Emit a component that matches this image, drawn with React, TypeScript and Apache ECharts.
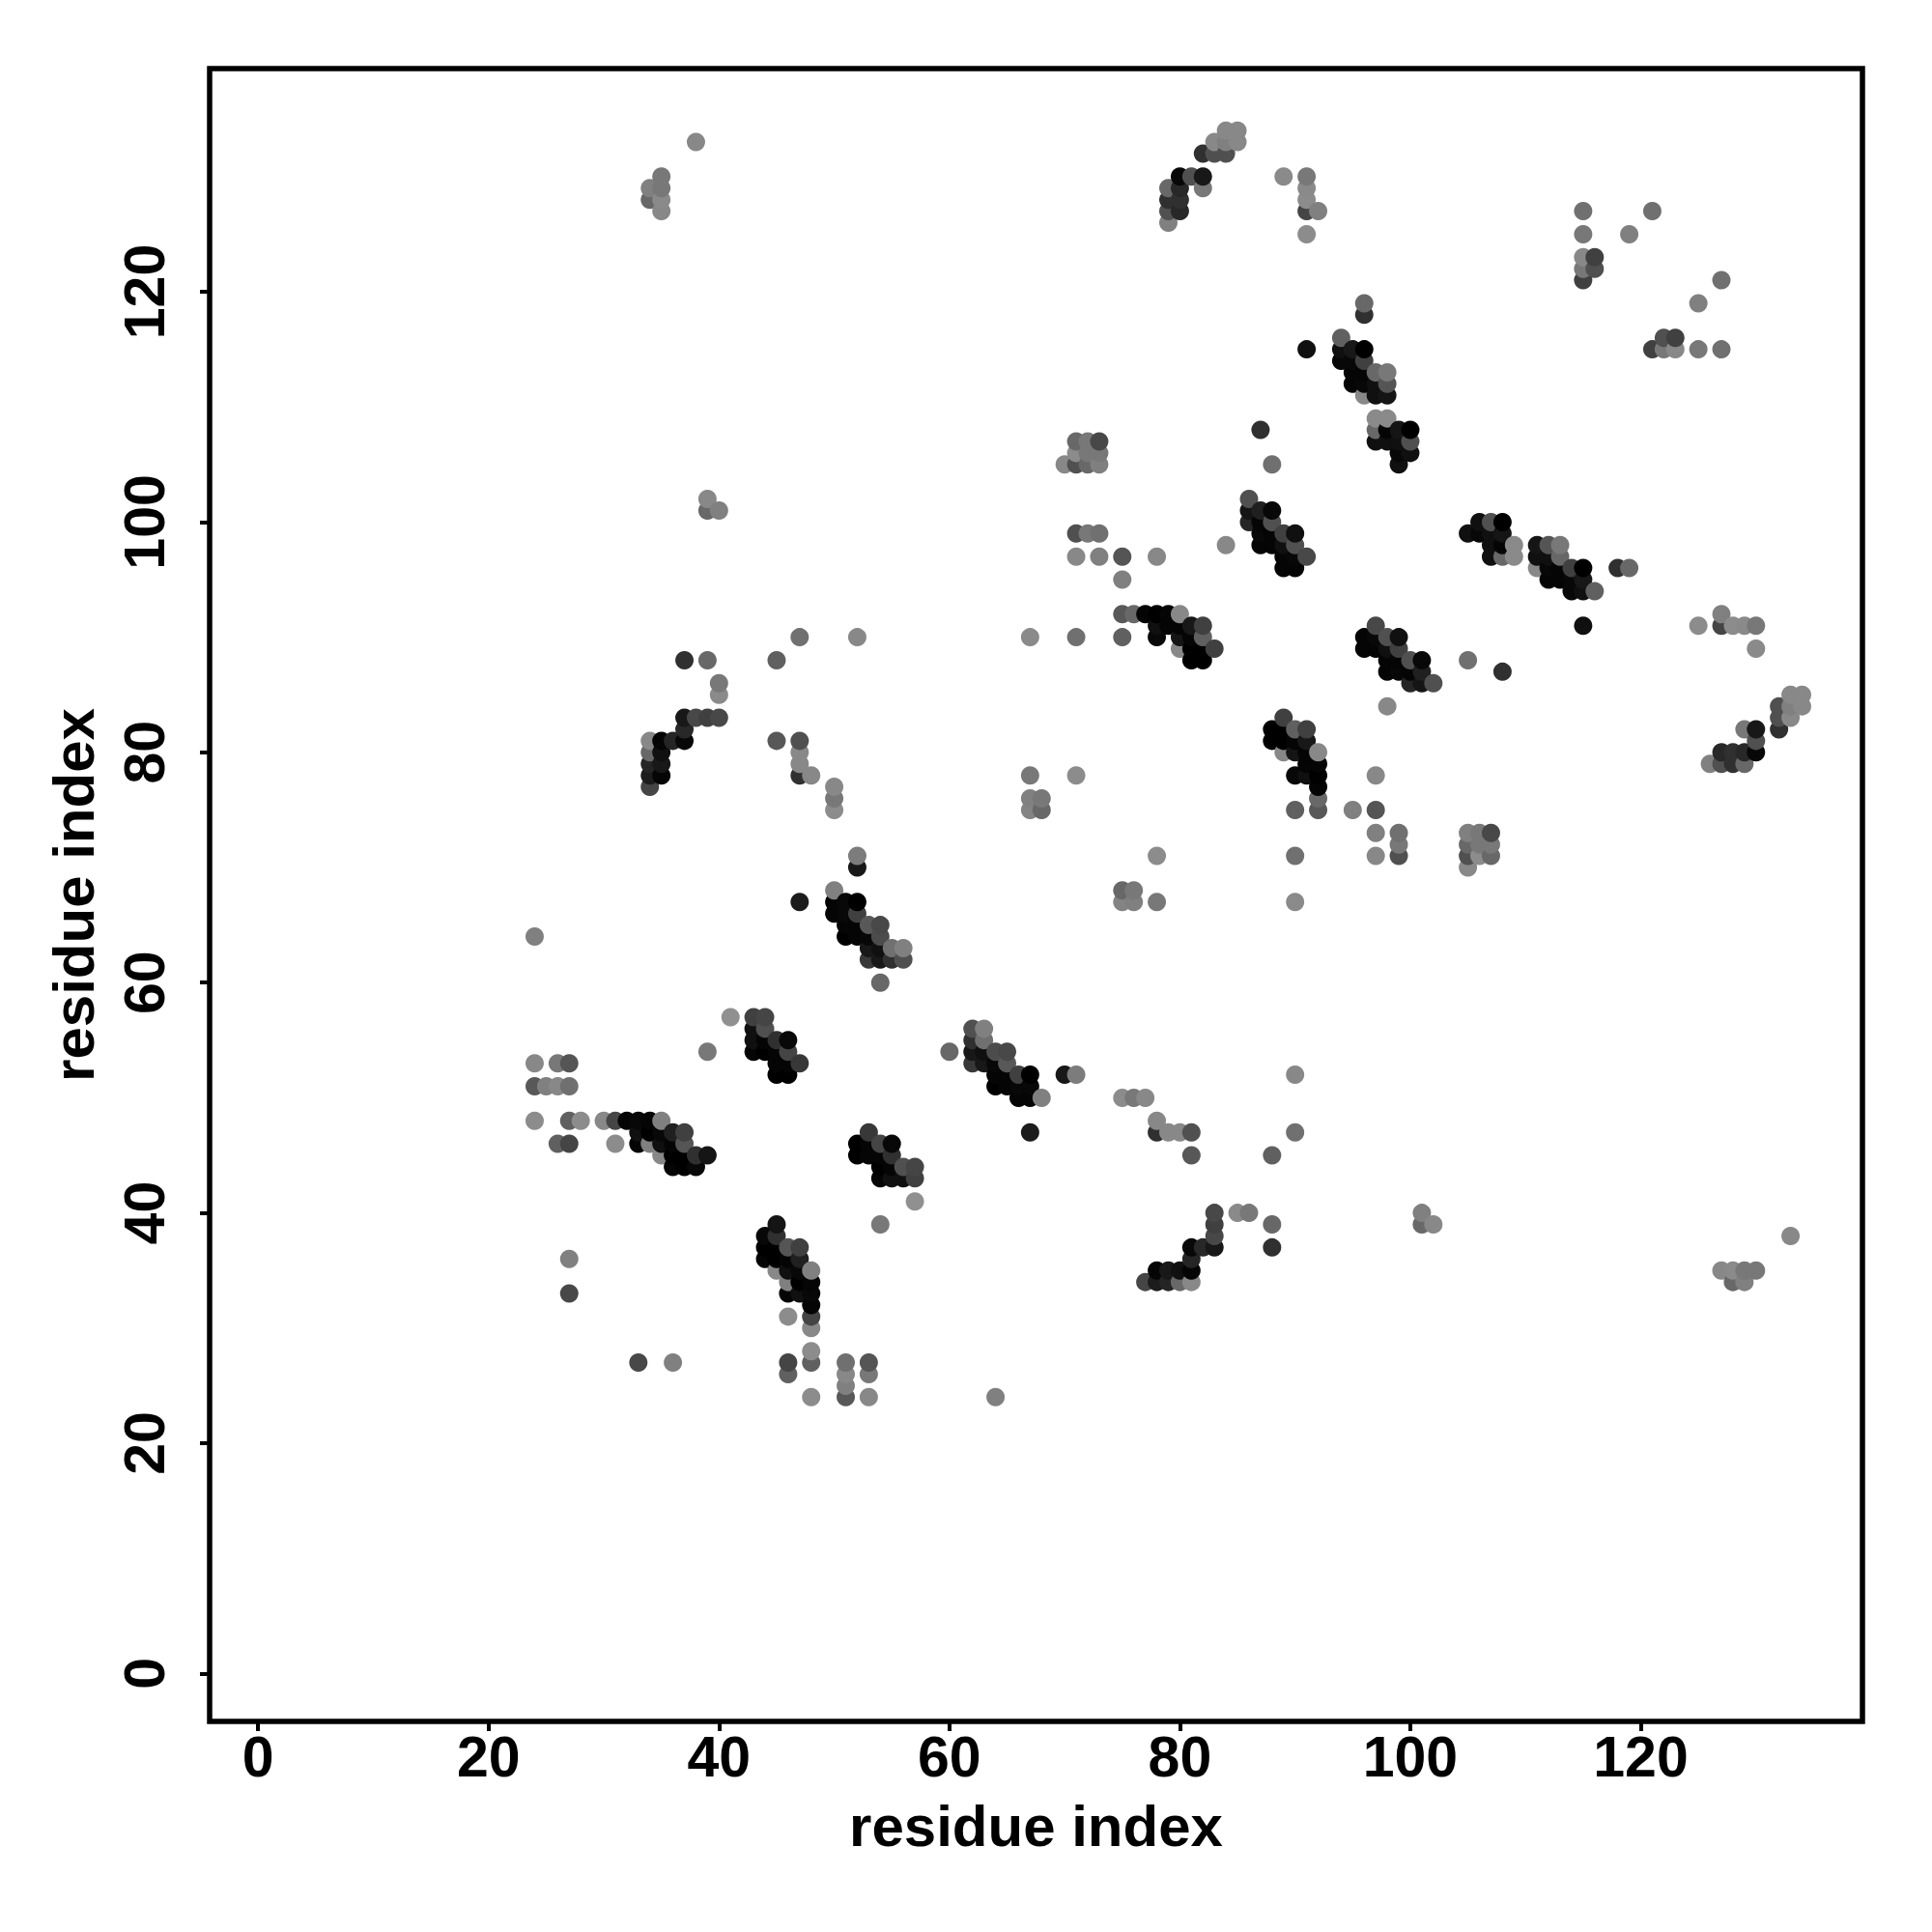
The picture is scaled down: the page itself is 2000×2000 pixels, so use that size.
import React, { useEffect, useRef } from "react";
import * as echarts from "echarts";

type Contact = [number, number, number];

// Contacts above the diagonal: [residue i, residue j, grey level]. The map is symmetric.
const helixPairs2448: Contact[] = [
  [24,64,0x80],[24,53,0x88],[26,53,0x78],[27,53,0x55],[24,51,0x58],[25,51,0x80],[26,51,0x88],[27,51,0x70],
  [24,48,0x8c],[27,48,0x60],[28,48,0x8c],[30,48,0x88],[31,48,0x45],[32,48,0x05],[33,48,0x08],[34,48,0x05],[35,48,0x80],
  [33,47,0x10],[34,47,0x00],[35,47,0x08],[36,47,0x20],[37,47,0x40],
  [26,46,0x60],[27,46,0x45],[31,46,0x8c],[33,46,0x05],[34,46,0x80],[35,46,0x10],[36,46,0x05],[37,46,0x55],
  [35,45,0x88],[36,45,0x00],[37,45,0x00],[38,45,0x30],[39,45,0x15],[36,44,0x05],[37,44,0x00],[38,44,0x08],
  [27,36,0x80],[27,33,0x48],
];
const helixPairs4357: Contact[] = [
  [41,57,0x90],[39,54,0x78],[43,57,0x40],[44,57,0x45],[43,56,0x10],[44,56,0x50],
  [43,55,0x10],[44,55,0x05],[45,55,0x30],[46,55,0x08],[43,54,0x05],[44,54,0x00],[45,54,0x05],[46,54,0x45],
  [45,53,0x05],[46,53,0x05],[47,53,0x38],[45,52,0x00],[46,52,0x00],
];
const helixPairs5068: Contact[] = [
  [52,71,0x7c],[52,70,0x18],[50,68,0x80],[47,67,0x1c],[50,67,0x05],[51,67,0x08],[52,67,0x00],
  [50,66,0x05],[51,66,0x08],[52,66,0x40],[51,65,0x05],[52,65,0x05],[53,65,0x58],[54,65,0x48],
  [51,64,0x00],[52,64,0x05],[53,64,0x08],[54,64,0x4c],[53,63,0x18],[54,63,0x10],[55,63,0x70],[56,63,0x80],
  [53,62,0x38],[54,62,0x18],[55,62,0x30],[56,62,0x50],[54,60,0x68],
  [50,77,0x88],[50,76,0x78],[50,75,0x8c],[48,78,0x88],
  [47,81,0x50],[47,80,0x88],[47,79,0x88],[47,78,0x30],[45,81,0x58],[45,88,0x60],[47,90,0x70],[52,90,0x88],
];
const pairs3490: Contact[] = [
  [67,90,0x8a],[71,90,0x70],[37,88,0x30],[39,88,0x68],
  [40,86,0x78],[40,85,0x8a],[37,83,0x18],[38,83,0x48],[39,83,0x40],[40,83,0x48],[37,82,0x28],
  [34,81,0x88],[35,81,0x05],[36,81,0x25],[37,81,0x08],
  [34,80,0x68],[35,80,0x10],[34,79,0x25],[35,79,0x18],
  [34,78,0x1c],[35,78,0x05],[34,77,0x45],
  [67,78,0x78],[71,78,0x8c],[67,76,0x80],[68,76,0x78],[67,75,0x84],[68,75,0x68],
  [39,101,0x68],[39,102,0x88],[40,101,0x80],
];
const pairs3485: Contact[] = [
  [38,133,0x88],[35,130,0x78],[34,129,0x80],[35,129,0x78],[34,128,0x68],[35,128,0x8a],[35,127,0x88],
  [84,134,0x88],[85,134,0x88],[83,133,0x88],[84,133,0x80],[85,133,0x88],[82,132,0x30],[83,132,0x50],[84,132,0x50],
  [80,130,0x08],[81,130,0x50],[82,130,0x18],[89,130,0x8a],[91,130,0x78],
  [79,129,0x68],[80,129,0x28],[82,129,0x78],[91,129,0x8a],[79,128,0x30],[80,128,0x30],[91,128,0x8c],
  [79,127,0x50],[80,127,0x28],[91,127,0x45],[92,127,0x80],[79,126,0x80],[91,125,0x8c],
  [115,127,0x70],[115,125,0x78],[115,123,0x88],[115,122,0x78],[115,121,0x40],[116,123,0x40],[116,122,0x50],[119,125,0x80],[121,127,0x70],
];
const pairs94119: Contact[] = [
  [96,119,0x68],[96,118,0x30],[94,116,0x60],[91,115,0x10],[94,115,0x10],[95,115,0x18],[96,115,0x00],
  [94,114,0x08],[95,114,0x08],[96,114,0x40],[95,113,0x05],[96,113,0x05],[97,113,0x68],[98,113,0x78],
  [95,112,0x05],[96,112,0x08],[97,112,0x10],[98,112,0x55],[96,111,0x88],[97,111,0x10],[98,111,0x15],
  [97,109,0x8a],[98,109,0x8a],[97,108,0x68],[98,108,0x05],[99,108,0x15],[100,108,0x00],
  [97,107,0x10],[98,107,0x10],[99,107,0x10],[100,107,0x50],[99,106,0x08],[100,106,0x10],[99,105,0x10],
  [87,108,0x30],[88,105,0x70],
];
const pairs70102: Contact[] = [
  [71,107,0x68],[72,107,0x78],[73,107,0x48],[71,106,0x8c],[72,106,0x78],[73,106,0x78],
  [70,105,0x88],[71,105,0x50],[72,105,0x68],[73,105,0x80],
  [71,99,0x50],[72,99,0x78],[73,99,0x70],[71,97,0x88],[73,97,0x80],[75,97,0x55],[78,97,0x88],[75,95,0x80],[84,98,0x88],
  [86,102,0x50],[86,101,0x15],[87,101,0x20],[88,101,0x08],[86,100,0x25],[87,100,0x05],[88,100,0x50],
  [87,99,0x08],[88,99,0x05],[89,99,0x40],[90,99,0x10],[87,98,0x05],[88,98,0x05],[89,98,0x10],[90,98,0x50],
  [89,97,0x05],[90,97,0x08],[91,97,0x48],[89,96,0x05],[90,96,0x05],
];
const pairs7592: Contact[] = [
  [75,92,0x58],[76,92,0x68],[77,92,0x05],[78,92,0x00],[79,92,0x05],[80,92,0x88],
  [78,91,0x10],[79,91,0x05],[80,91,0x05],[81,91,0x18],[82,91,0x40],
  [75,90,0x60],[78,90,0x08],[80,90,0x15],[81,90,0x05],[82,90,0x60],
  [80,89,0x88],[81,89,0x00],[82,89,0x00],[83,89,0x40],[81,88,0x00],[82,88,0x00],
];

const tickValues = [0, 20, 40, 60, 80, 100, 120];
const axisTitle = "residue index";

function grey(level: number) {
  return `rgb(${level},${level},${level})`;
}

export default function App() {
  const ref = useRef<HTMLDivElement>(null);
  useEffect(() => {
    if (!ref.current) return;
    const chart = echarts.init(ref.current, undefined, { renderer: "svg" });
    const seen = new Map<string, Contact>();
    const upper = [
      ...helixPairs2448, ...helixPairs4357, ...helixPairs5068, ...pairs3490,
      ...pairs3485, ...pairs94119, ...pairs70102, ...pairs7592,
    ];
    for (const [i, j, g] of upper) {
      seen.set(`${i},${j}`, [i, j, g]);
      seen.set(`${j},${i}`, [j, i, g]);
    }
    const points = [...seen.values()].sort((a, b) => a[0] - b[0] || a[1] - b[1]);
    const axisBase = {
      type: "value" as const,
      splitLine: { show: false },
      axisLine: { show: false, onZero: false },
      axisTick: { show: true, length: 10, customValues: tickValues, lineStyle: { color: "#000", width: 4 } },
      name: axisTitle,
      nameLocation: "middle" as const,
      nameTextStyle: { fontFamily: "Liberation Sans", fontWeight: "bold" as const, fontSize: 60, color: "#000" },
    };
    const labelBase = {
      customValues: tickValues,
      fontFamily: "Liberation Sans",
      fontWeight: "bold" as const,
      fontSize: 59,
      color: "#000",
    };
    chart.setOption({
      animation: false,
      backgroundColor: "#fff",
      grid: { left: 217, top: 71, width: 1711, height: 1711, show: true, borderColor: "#000", borderWidth: 5.5, backgroundColor: "transparent" },
      xAxis: { ...axisBase, min: -4.21, max: 139.24, nameGap: 78, axisLabel: { ...labelBase, margin: 7 } },
      yAxis: { ...axisBase, min: -4.16, max: 139.38, nameGap: 111, axisLabel: { ...labelBase, rotate: 90, margin: 38, align: "center", verticalAlign: "bottom" } },
      series: [
        {
          type: "scatter",
          symbol: "circle",
          symbolSize: 19,
          silent: true,
          clip: false,
          data: points.map(([i, j, g]) => ({ value: [i, j], itemStyle: { color: grey(g), opacity: 1 } })),
        },
      ],
    });
    return () => chart.dispose();
  }, []);
  return <div ref={ref} style={{ position: "absolute", left: 0, top: 0, width: 2000, height: 2000 }} />;
}
